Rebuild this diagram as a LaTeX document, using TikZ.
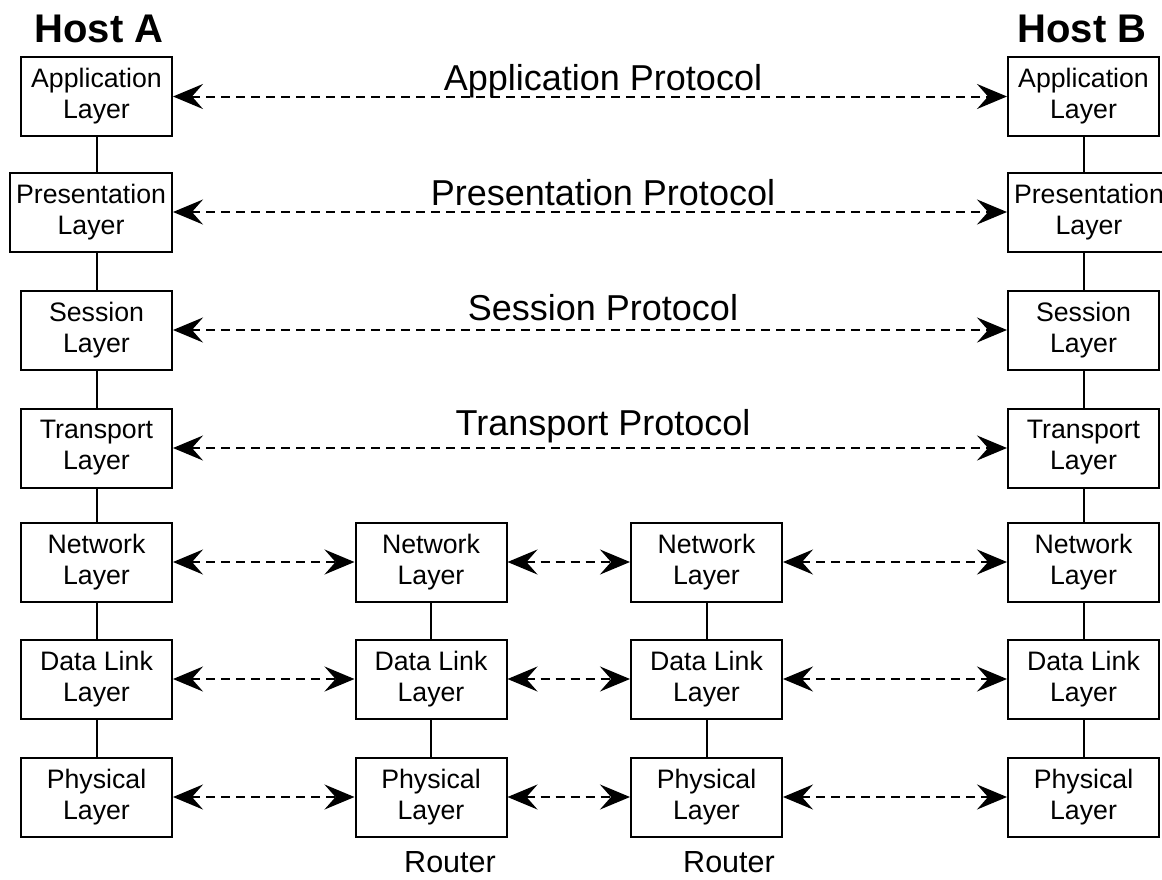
\documentclass[tikz,border=0pt]{standalone}
\usepackage{fontspec}
\setmainfont{Liberation Sans}
\usetikzlibrary{arrows.meta}

\tikzset{
  layerbox/.style={draw, line width=2pt, minimum width=151pt, minimum height=79pt,
    inner xsep=6pt, align=center, font=\fontsize{26.7}{31}\selectfont},
  peer/.style={line width=2pt, dash pattern=on 9pt off 6pt,
    {Stealth[length=30pt,width=25pt,inset=11pt]}-{Stealth[length=30pt,width=25pt,inset=11pt]}},
  stack/.style={line width=2pt},
  hostname/.style={anchor=base, font=\fontsize{40}{48}\selectfont\bfseries},
  protoname/.style={anchor=base, font=\fontsize{36}{43}\selectfont},
  routername/.style={anchor=base, font=\fontsize{30.5}{36}\selectfont}
}

\begin{document}
\begin{tikzpicture}[x=1pt, y=-1pt]
\useasboundingbox (0,0) rectangle (1162,879);

% titles
\node[hostname] (hostA) at (99,42) {Host A};
\node[hostname] (hostB) at (1082,42) {Host B};

% host A stack
\node[layerbox, anchor=east] (appA) at (173,96.5) {Application\\Layer};
\node[layerbox, anchor=east] (preA) at (173,212) {Presentation\\Layer};
\node[layerbox, anchor=east] (sesA) at (173,330) {Session\\Layer};
\node[layerbox, anchor=east] (traA) at (173,448) {Transport\\Layer};
\node[layerbox, anchor=east] (netA) at (173,562) {Network\\Layer};
\node[layerbox, anchor=east] (dllA) at (173,679) {Data Link\\Layer};
\node[layerbox, anchor=east] (phyA) at (173,797) {Physical\\Layer};

% routers
\node[layerbox] (netR) at (431,562) {Network\\Layer};
\node[layerbox] (dllR) at (431,679) {Data Link\\Layer};
\node[layerbox] (phyR) at (431,797) {Physical\\Layer};
\node[layerbox] (netS) at (706.5,562) {Network\\Layer};
\node[layerbox] (dllS) at (706.5,679) {Data Link\\Layer};
\node[layerbox] (phyS) at (706.5,797) {Physical\\Layer};

% host B stack
\node[layerbox, anchor=west] (appB) at (1007,96.5) {Application\\Layer};
\node[layerbox, anchor=west] (preB) at (1007,212) {Presentation\\Layer};
\node[layerbox, anchor=west] (sesB) at (1007,330) {Session\\Layer};
\node[layerbox, anchor=west] (traB) at (1007,448) {Transport\\Layer};
\node[layerbox, anchor=west] (netB) at (1007,562) {Network\\Layer};
\node[layerbox, anchor=west] (dllB) at (1007,679) {Data Link\\Layer};
\node[layerbox, anchor=west] (phyB) at (1007,797) {Physical\\Layer};

% vertical links inside each stack
\draw[stack] (appA.south) -- (appA.south |- preA.north);
\draw[stack] (appA.south |- preA.south) -- (sesA.north);
\draw[stack] (sesA) -- (traA);
\draw[stack] (traA) -- (netA);
\draw[stack] (netA) -- (dllA);
\draw[stack] (dllA) -- (phyA);
\draw[stack] (netR) -- (dllR);
\draw[stack] (dllR) -- (phyR);
\draw[stack] (netS) -- (dllS);
\draw[stack] (dllS) -- (phyS);
\draw[stack] (appB.south) -- (appB.south |- preB.north);
\draw[stack] (appB.south |- preB.south) -- (sesB.north);
\draw[stack] (sesB) -- (traB);
\draw[stack] (traB) -- (netB);
\draw[stack] (netB) -- (dllB);
\draw[stack] (dllB) -- (phyB);

% end-to-end protocols
\draw[peer] (appA.east) -- (appB.west);
\draw[peer] (preA.east) -- (preB.west);
\draw[peer] (sesA.east) -- (sesB.west);
\draw[peer] (traA.east) -- (traB.west);

% hop-by-hop
\draw[peer] (netA.east) -- (netR.west);
\draw[peer] (netR.east) -- (netS.west);
\draw[peer] (netS.east) -- (netB.west);
\draw[peer] (dllA.east) -- (dllR.west);
\draw[peer] (dllR.east) -- (dllS.west);
\draw[peer] (dllS.east) -- (dllB.west);
\draw[peer] (phyA.east) -- (phyR.west);
\draw[peer] (phyR.east) -- (phyS.west);
\draw[peer] (phyS.east) -- (phyB.west);

\node[protoname] (appP) at (603,90) {Application Protocol};
\node[protoname] (preP) at (603,205) {Presentation Protocol};
\node[protoname] (sesP) at (603,320) {Session Protocol};
\node[protoname] (traP) at (603,435) {Transport Protocol};

\node[routername] (rtr1) at (450,872) {Router};
\node[routername] (rtr2) at (729,872) {Router};
\end{tikzpicture}
\end{document}
